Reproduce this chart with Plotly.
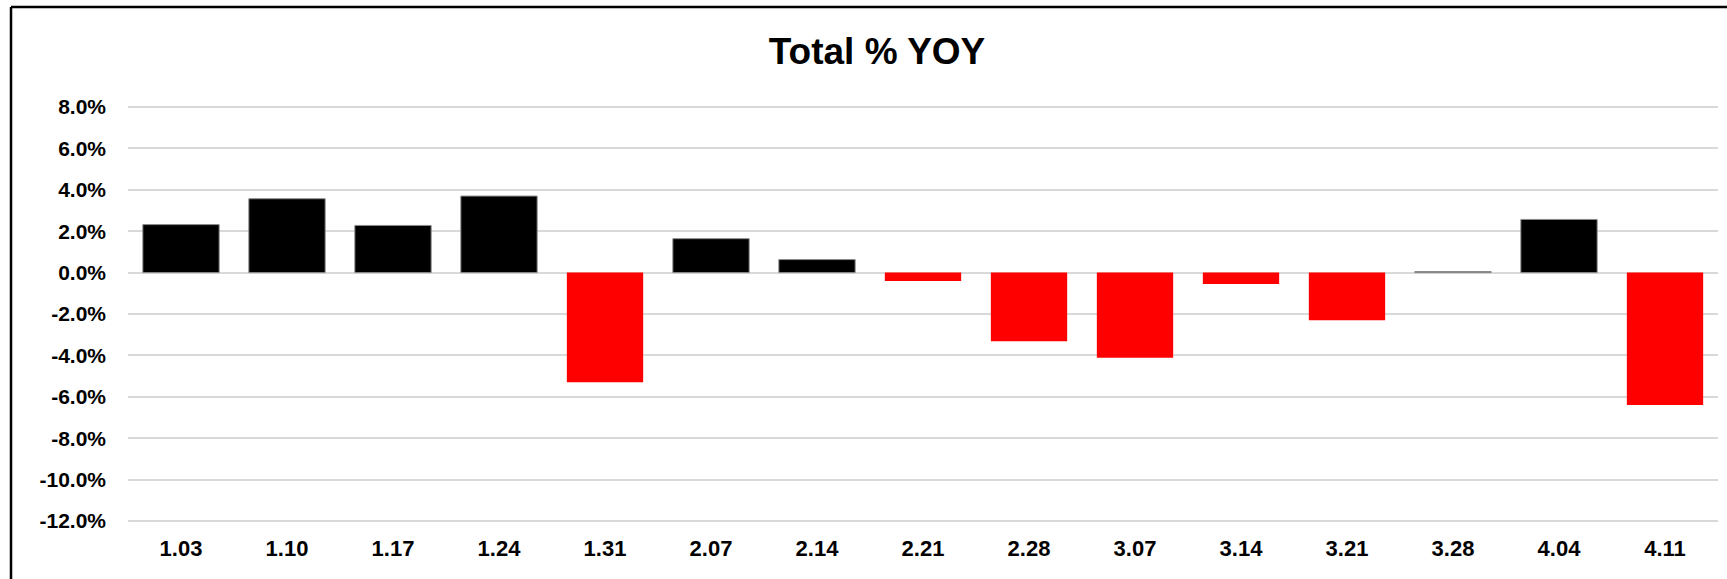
import plotly.graph_objects as go

categories = ["1.03", "1.10", "1.17", "1.24", "1.31", "2.07", "2.14", "2.21",
              "2.28", "3.07", "3.14", "3.21", "3.28", "4.04", "4.11"]
yoy_pct = [2.32, 3.57, 2.28, 3.70, -5.30, 1.64, 0.63, -0.41,
           -3.32, -4.12, -0.55, -2.30, 0.05, 2.57, -6.40]
y_ticks = [8, 6, 4, 2, 0, -2, -4, -6, -8, -10, -12]
y_tick_labels = [f"{v:.1f}%" for v in y_ticks]

colors = ["#000000" if v >= 0 else "#FF0000" for v in yoy_pct]
line_w = [1 if v >= 0 else 0 for v in yoy_pct]

W, H = 1727, 579
ml, mr, mt, mb = 128, 9, 105, 56
plot_w = W - ml - mr
plot_h = H - mt - mb

fig = go.Figure(go.Bar(
    x=categories, y=yoy_pct,
    marker=dict(color=colors, line=dict(color="#8c8c8c", width=line_w)),
    hovertemplate="%{x}: %{y:.1f}%<extra></extra>",
))

font_fam = "Liberation Sans, Arial, sans-serif"

# frame (left + top edges visible in reference)
fx0 = (11 - ml) / plot_w
fy1 = (H - mb - 7) / plot_h
fig.add_shape(type="line", xref="paper", yref="paper",
              x0=fx0, x1=fx0, y0=-1, y1=fy1, line=dict(color="black", width=2.5))
fig.add_shape(type="line", xref="paper", yref="paper",
              x0=fx0, x1=1.2, y0=fy1, y1=fy1, line=dict(color="black", width=2.5))

fig.update_layout(
    width=W, height=H,
    margin=dict(l=ml, r=mr, t=mt, b=mb),
    paper_bgcolor="white", plot_bgcolor="white",
    bargap=0.28,
    showlegend=False,
    title=dict(text="<b>Total % YOY</b>", x=(877) / W, xanchor="center",
               y=1 - 51 / H, yanchor="middle",
               font=dict(family=font_fam, size=37, color="black")),
    xaxis=dict(type="category", showgrid=False, zeroline=False, showline=False,
               ticks="", tickfont=dict(family=font_fam, size=22, color="black", weight="bold"),
               ticklabelstandoff=10),
    yaxis=dict(range=[-12.1, 8.1], tickvals=y_ticks, ticktext=y_tick_labels,
               showgrid=True, gridcolor="#d9d9d9", gridwidth=1.5,
               zeroline=False, showline=False, ticks="",
               tickfont=dict(family=font_fam, size=21, color="black", weight="bold"),
               ticklabelstandoff=21),
)

fig.write_html("out.html", config={"displayModeBar": False},
               post_script="document.body.style.margin='0';")
